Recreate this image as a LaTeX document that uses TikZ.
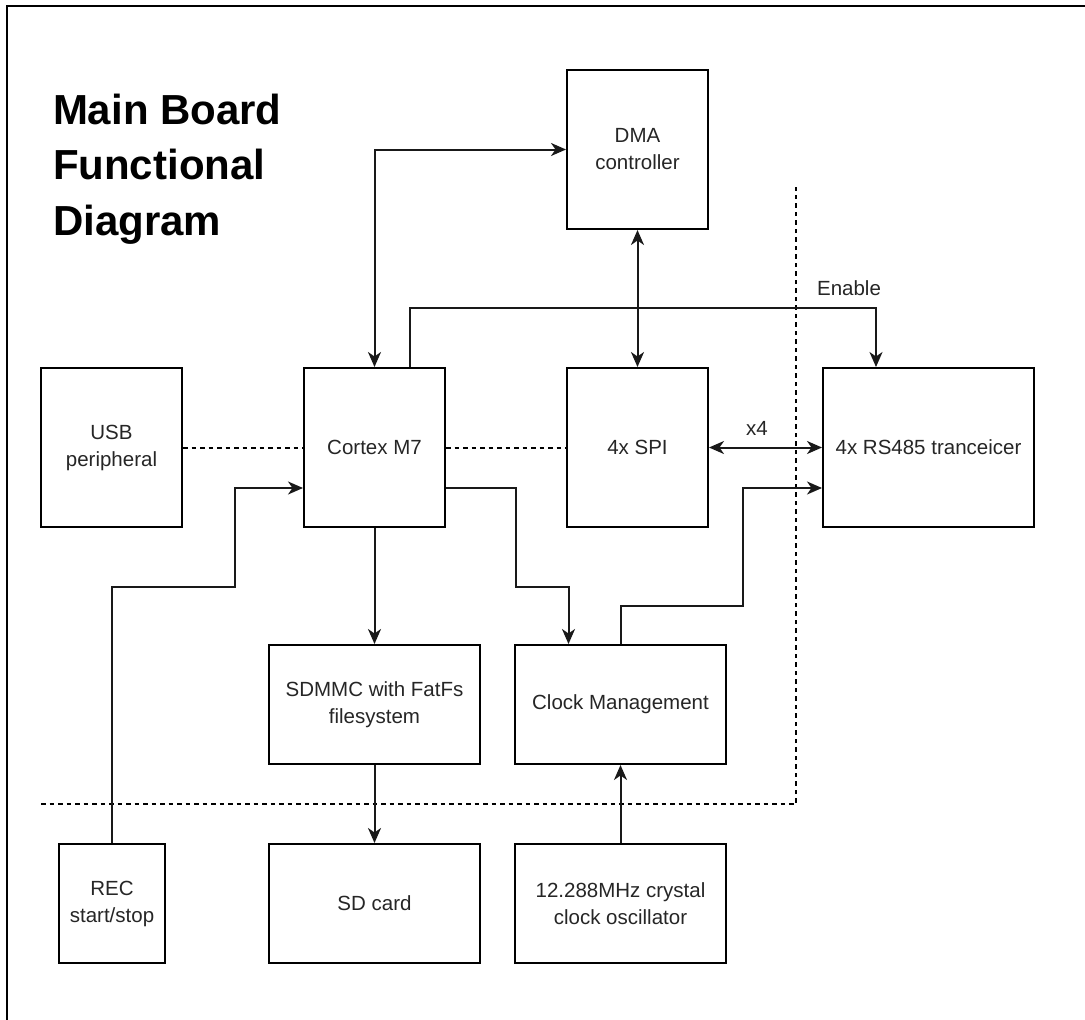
\documentclass[tikz,border=0pt]{standalone}
\usepackage{fontspec}
\setmainfont{Liberation Sans}
\usetikzlibrary{arrows.meta}

\begin{document}
\begin{tikzpicture}[x=1pt,y=-1pt,
  line width=2pt,
  block/.style={draw=black, line width=2pt, fill=white, align=center,
    inner sep=2pt, text=black!85, font=\fontsize{20.5}{27}\selectfont},
  wire/.style={draw=black!90, line width=2pt},
  tip/.style={-{Stealth[length=15pt,width=13pt,inset=4.5pt]}},
  bitip/.style={{Stealth[length=15pt,width=13pt,inset=4.5pt]}-{Stealth[length=15pt,width=13pt,inset=4.5pt]}},
  link/.style={draw=black, line width=2pt, dash pattern=on 4.5pt off 4pt},
  titletext/.style={anchor=base west, inner sep=0pt, font=\fontsize{42}{55}\selectfont\bfseries},
  labeltext/.style={inner sep=0pt, text=black!85, font=\fontsize{20.5}{24}\selectfont}]

\useasboundingbox (0,0) rectangle (1085,1020);

% outer frame (top and left edges)
\coordinate (fbl) at (7,1020);
\coordinate (ftl) at (7,6);
\coordinate (ftr) at (1085,6);
\draw[line width=2pt] (fbl) -- (ftl) -- (ftr);

% heading
\node[titletext] (t1) at (52,124) {Main Board};
\node[titletext] (t2) at (52,179.5) {Functional};
\node[titletext] (t3) at (52,235) {Diagram};

% blocks
\node[block, minimum width=141pt, minimum height=159pt] (dma)    at (637.5,149.5) {DMA\\controller};
\node[block, minimum width=141pt, minimum height=159pt] (cortex) at (374.5,447.5) {Cortex M7};
\node[block, minimum width=141pt, minimum height=159pt] (spi)    at (637.5,447.5) {4x SPI};
\node[block, minimum width=211pt, minimum height=159pt] (rs485)  at (928.5,447.5) {4x RS485 tranceicer};
\node[block, minimum width=141pt, minimum height=159pt] (usb)    at (111.5,447.5) {USB\\peripheral};
\node[block, minimum width=211pt, minimum height=119pt] (sdmmc)  at (374.5,704.5) {SDMMC with FatFs\\filesystem};
\node[block, minimum width=211pt, minimum height=119pt] (clock)  at (620.5,704.5) {Clock Management};
\node[block, minimum width=106pt, minimum height=119pt] (rec)    at (112,903.5)   {REC\\start/stop};
\node[block, minimum width=211pt, minimum height=119pt] (sd)     at (374.5,903.5) {SD card};
\node[block, minimum width=211pt, minimum height=119pt] (xtal)   at (620.5,903.5) {12.288MHz crystal\\clock oscillator};

% labels on connectors
\node[labeltext] (enable) at (849,288) {Enable};
\node[labeltext] (x4) at (757,428) {x4};

% on-chip boundary
\coordinate (bd1) at (41,804);
\coordinate (bd2) at (796,804);
\coordinate (bd3) at (796,187);
\draw[link] (bd1) -- (bd2) -- (bd3);

% internal buses
\draw[link] (usb.east) -- (cortex.west);
\draw[link] (cortex.east) -- (spi.west);

% bend points
\coordinate (en1) at (410,308);
\coordinate (ck1) at (743,606);
\coordinate (cc1) at (516,587);
\coordinate (rc1) at (235,587);

% connectors
\draw[wire, bitip] (cortex.north) |- (dma.west);
\draw[wire, bitip] (dma.south) -- (spi.north);
\draw[wire, tip] ([xshift=35.5pt]cortex.north) -- (en1) -| ([xshift=-52.5pt]rs485.north);
\draw[wire, bitip] (spi.east) -- (rs485.west);
\draw[wire, tip] (clock.north) |- (ck1) |- ([yshift=-40.5pt]rs485.west);
\draw[wire, tip] ([yshift=-40.5pt]cortex.east) -| (cc1) -| ([xshift=-52pt]clock.north);
\draw[wire, tip] (cortex.south) -- (sdmmc.north);
\draw[wire, tip] (sdmmc.south) -- (sd.north);
\draw[wire, tip] (xtal.north) -- (clock.south);
\draw[wire, tip] (rec.north) |- (rc1) |- ([yshift=-40.5pt]cortex.west);

\end{tikzpicture}
\end{document}
